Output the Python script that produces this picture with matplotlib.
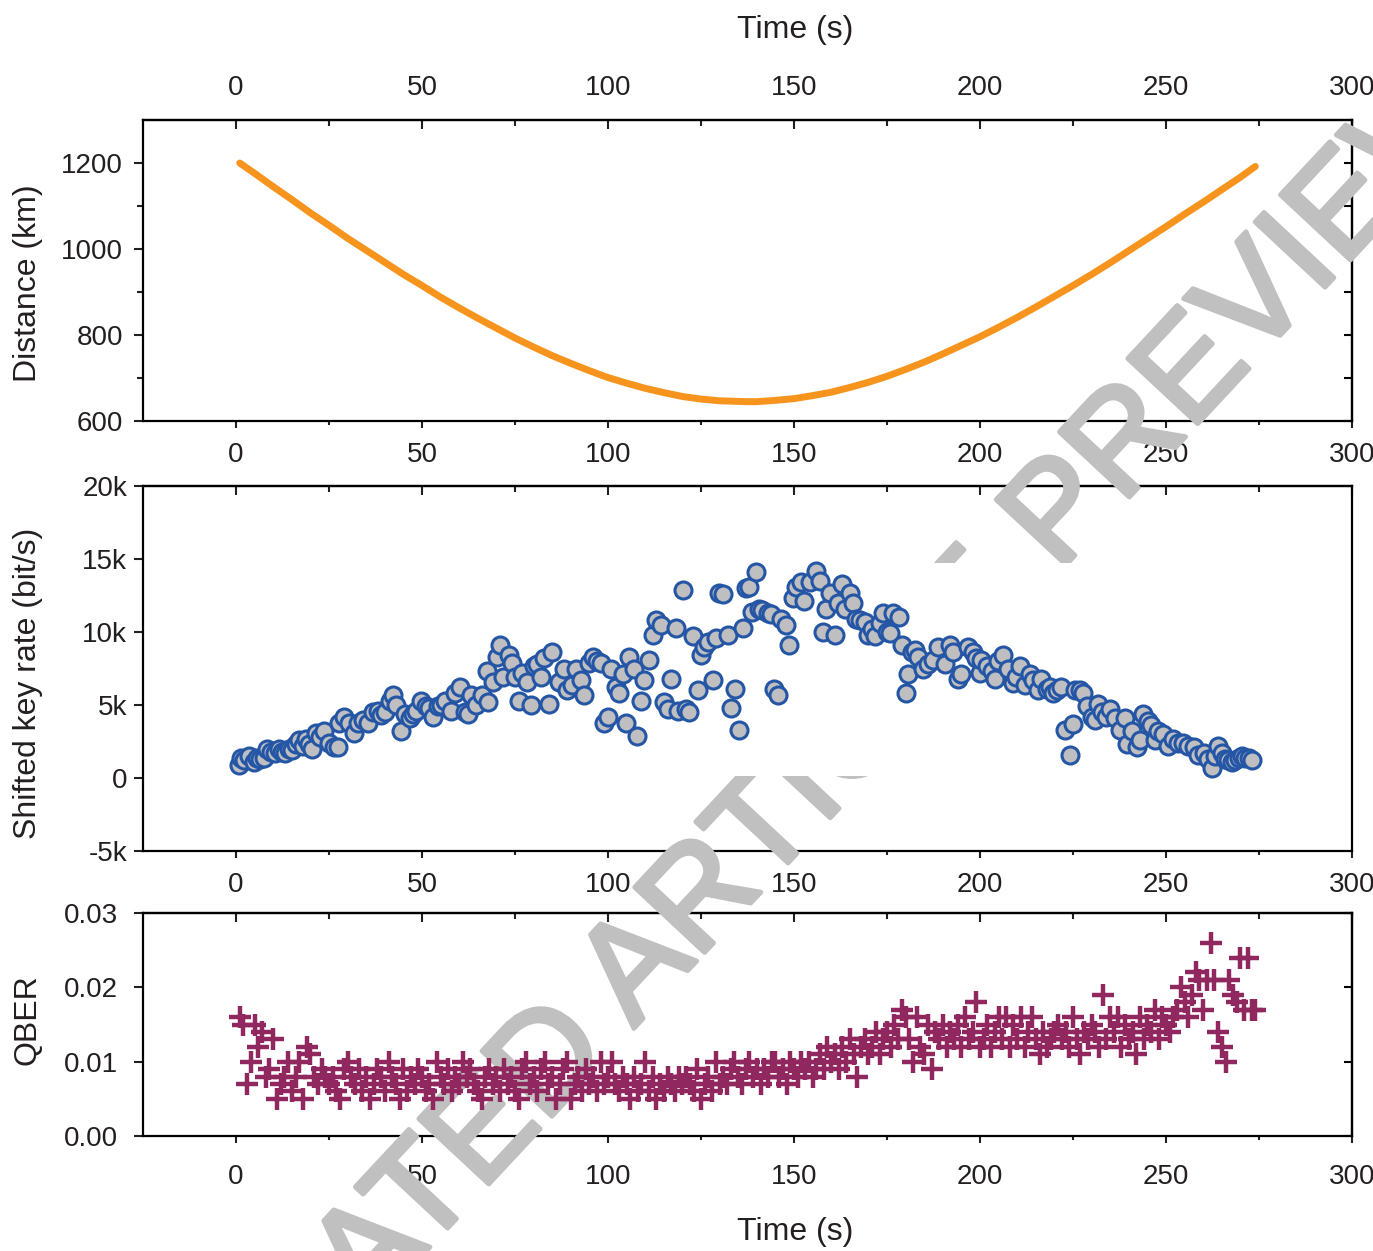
import matplotlib.pyplot as plt
import matplotlib.patheffects as pe
from matplotlib.patches import Rectangle

label_font = 'Liberation Sans'
plt.rcParams['font.family'] = [label_font, 'DejaVu Sans']

# --- data ---
dist_t = [1, 5, 10, 15, 20, 25, 30, 35, 40, 45, 50, 55, 60, 65, 70, 75, 80, 85, 90, 95,
          100, 105, 110, 115, 120, 125, 130, 137, 140, 145, 150, 155, 160, 165, 170, 175,
          180, 185, 190, 195, 200, 205, 210, 215, 220, 225, 230, 235, 240, 245, 250, 255,
          260, 265, 270, 274]
dist_km = [1200, 1176, 1145, 1115, 1084, 1055, 1025, 997, 969, 941, 915, 888, 863, 839,
           816, 793, 772, 752, 734, 717, 701, 688, 676, 666, 657, 651, 647, 645, 645, 648,
           652, 659, 667, 678, 690, 704, 720, 737, 756, 776, 796, 818, 841, 865, 890, 915,
           941, 968, 996, 1024, 1052, 1081, 1109, 1138, 1167, 1192]

rate_t = [0.8, 1.3, 2.2, 3.4, 4.8, 5.7, 6.5, 7.5, 8.4, 9.5, 10.6, 11.5, 12.4, 13.3, 14.2,
          15.1, 16, 17, 18, 18.8, 19.7, 20.5, 21.4, 22.5, 23.7, 25, 26.4, 27.3, 27.8, 29.1,
          30.5, 31.8, 32.7, 34.1, 35.4, 36.8, 38.1, 39, 40, 41.3, 42.2, 43.1, 44.3, 45.4, 46.7,
          47.5, 48.5, 49.8, 51.2, 52, 53, 54.3, 55.2, 56.1, 57.9, 58.8, 60.1, 61.5, 62.4, 63.3,
          64.5, 66, 67.4, 67.8, 69.2, 70.1, 71, 71.9, 73.3, 74.2, 75.1, 76, 76.9, 78.3, 79.2,
          80.1, 81, 81.9, 82.8, 84.1, 85, 86.8, 88.2, 89.1, 90.4, 91.4, 92.7, 93.6, 95, 95.9,
          97, 98.1, 99, 99.9, 100.8, 102.1, 103, 103.9, 104.8, 105.7, 107, 107.9, 108.8, 109.7,
          111.1, 112, 112.9, 114.2, 115.1, 116, 116.9, 118.3, 118.7, 120.1, 121, 121.9, 122.8,
          124.1, 125, 125.9, 126.8, 128.2, 129, 129.9, 131, 132.2, 133.1, 134.2, 135.3, 136.2,
          137.1, 138, 138.7, 139.8, 140.6, 141.5, 142.9, 143.8, 144.7, 145.6, 146.5, 147.9,
          148.6, 149.7, 150.6, 151.9, 152.8, 154.2, 155.8, 156.9, 157.8, 158.7, 159.6, 161,
          161.8, 162.8, 163.7, 165, 165.9, 166.8, 167.7, 169.1, 170, 170.9, 171.8, 173.1, 174,
          174.9, 175.8, 176.7, 178.1, 179, 180.1, 180.7, 181.6, 182.4, 183.4, 184.7, 186,
          187.4, 188.7, 190.5, 191.9, 192.8, 194.1, 195, 196.8, 198.1, 199, 200, 200.4, 201.8,
          203.1, 204, 204.9, 206.3, 207.6, 208.9, 209.8, 210.7, 212.1, 213.4, 214.3, 215.6,
          216.5, 217.9, 218.8, 219.7, 220.6, 221.9, 222.8, 224.2, 225.1, 225.5, 226.9, 227.8,
          228.7, 230, 230.9, 231.8, 232.7, 234, 234.9, 236.3, 237.6, 239, 239.4, 240.8, 242.1,
          243, 243.9, 245.2, 246.1, 247, 247.9, 249.3, 250.6, 252, 253.3, 254.7, 256, 257.4,
          258.7, 260.1, 261.4, 262.3, 263.2, 264.1, 265, 265.9, 266.8, 267.7, 268.6, 269.5,
          270.4, 271.3, 272.2, 273.1]
rate_k = [0.9, 1.4, 1.2, 1.5, 1.1, 1.4, 1.3, 1.4, 2.0, 1.8, 1.7, 2.0, 1.8, 1.7, 2.0,
          1.9, 2.3, 2.6, 2.2, 2.7, 2.3, 2.0, 3.1, 2.8, 3.2, 2.4, 2.1, 2.1, 3.8, 4.2,
          3.8, 3.1, 3.8, 4.0, 3.8, 4.5, 4.6, 4.3, 4.5, 5.3, 5.7, 5.0, 3.2, 4.4, 4.1,
          4.4, 4.6, 5.3, 4.9, 4.8, 4.2, 4.9, 5.0, 5.3, 4.6, 5.8, 6.2, 4.5, 4.4, 5.7,
          5.0, 5.7, 7.3, 5.2, 6.6, 8.3, 9.1, 6.9, 8.4, 7.9, 6.9, 5.3, 7.2, 6.6, 5.0,
          7.7, 7.8, 6.9, 8.2, 5.1, 8.6, 6.6, 7.5, 6.0, 6.4, 7.5, 6.7, 5.7, 7.9, 8.3,
          8.0, 7.9, 3.8, 4.2, 7.5, 6.2, 5.8, 7.1, 3.8, 8.3, 7.5, 2.9, 5.3, 6.7,
          8.1, 9.8, 10.8, 10.5, 5.2, 4.7, 6.8, 10.3, 4.6, 12.9, 4.7, 4.5, 9.7,
          6.0, 8.4, 9.0, 9.3, 6.7, 9.6, 12.7, 12.6, 9.8, 4.8, 6.1, 3.3, 10.3,
          13.0, 13.1, 11.4, 14.1, 11.6, 11.5, 11.3, 11.2, 6.1, 5.7, 10.9, 10.5,
          9.1, 12.3, 13.1, 13.4, 12.1, 13.4, 14.2, 13.5, 10.0, 11.6, 12.7, 9.8,
          12.0, 13.3, 11.6, 12.7, 12.0, 10.9, 10.8, 10.7, 9.8, 10.2, 9.7, 10.6, 11.3,
          10.0, 9.9, 11.3, 11.0, 9.1, 5.8, 7.1, 8.6, 8.8, 8.3, 7.5, 7.8,
          8.1, 9.0, 7.8, 9.1, 8.6, 6.8, 7.1, 9.0, 8.6, 8.2, 7.2, 8.1, 7.7,
          7.3, 6.8, 8.0, 8.4, 7.5, 6.5, 6.9, 7.7, 6.4, 7.1, 6.7, 6.0,
          6.8, 6.1, 6.2, 5.8, 6.0, 6.2, 3.3, 1.6, 3.7, 6.0, 6.0, 5.8,
          4.9, 4.2, 4.0, 5.1, 4.5, 4.2, 4.7, 4.1, 3.3, 4.1, 2.3, 3.2, 2.1,
          2.6, 4.4, 3.9, 3.6, 2.6, 3.2, 3.0, 2.2, 2.7, 2.4, 2.4, 2.2, 2.1,
          1.6, 1.7, 1.3, 0.7, 1.5, 2.2, 1.7, 1.3, 1.2, 1.1, 1.2, 1.4,
          1.5, 1.4, 1.4, 1.2]

qber_t = list(range(1, 275))
qber = [0.016, 0.015, 0.007, 0.010, 0.015, 0.012, 0.014, 0.008, 0.009, 0.013,
        0.005, 0.007, 0.008, 0.010, 0.006, 0.008, 0.010, 0.005, 0.012, 0.011,
        0.008, 0.007, 0.009, 0.008, 0.007, 0.008, 0.006, 0.005, 0.009, 0.010,
        0.008, 0.007, 0.009, 0.006, 0.008, 0.005, 0.007, 0.009, 0.008, 0.006,
        0.010, 0.008, 0.007, 0.005, 0.009, 0.006, 0.008, 0.007, 0.009, 0.008,
        0.006, 0.007, 0.005, 0.010, 0.008, 0.007, 0.009, 0.006, 0.008, 0.007,
        0.010, 0.008, 0.009, 0.007, 0.006, 0.005, 0.008, 0.009, 0.007, 0.008,
        0.006, 0.009, 0.007, 0.008, 0.006, 0.005, 0.009, 0.010, 0.007, 0.008,
        0.006, 0.009, 0.010, 0.007, 0.008, 0.005, 0.007, 0.009, 0.010, 0.005,
        0.007, 0.008, 0.006, 0.009, 0.007, 0.008, 0.006, 0.010, 0.007, 0.008,
        0.010, 0.007, 0.006, 0.008, 0.007, 0.005, 0.008, 0.006, 0.007, 0.010,
        0.006, 0.008, 0.005, 0.007, 0.006, 0.008, 0.007, 0.006, 0.008, 0.007,
        0.008, 0.007, 0.006, 0.009, 0.005, 0.007, 0.008, 0.006, 0.010, 0.007,
        0.008, 0.007, 0.009, 0.010, 0.008, 0.007, 0.009, 0.010, 0.008, 0.009,
        0.007, 0.009, 0.008, 0.010, 0.010, 0.008, 0.009, 0.007, 0.010, 0.009,
        0.008, 0.010, 0.009, 0.010, 0.008, 0.009, 0.011, 0.009, 0.012, 0.010,
        0.011, 0.009, 0.012, 0.010, 0.013, 0.011, 0.008, 0.012, 0.013, 0.011,
        0.012, 0.014, 0.011, 0.013, 0.014, 0.012, 0.015, 0.013, 0.017, 0.016,
        0.013, 0.010, 0.016, 0.012, 0.011, 0.015, 0.009, 0.014, 0.013, 0.015,
        0.012, 0.014, 0.013, 0.015, 0.012, 0.016, 0.013, 0.014, 0.018, 0.012,
        0.013, 0.015, 0.012, 0.014, 0.016, 0.013, 0.016, 0.012, 0.015, 0.013,
        0.016, 0.012, 0.014, 0.016, 0.013, 0.011, 0.014, 0.012, 0.013, 0.014,
        0.015, 0.013, 0.014, 0.012, 0.016, 0.013, 0.011, 0.014, 0.013, 0.015,
        0.014, 0.012, 0.019, 0.013, 0.016, 0.014, 0.016, 0.012, 0.015, 0.013,
        0.014, 0.011, 0.016, 0.013, 0.015, 0.014, 0.017, 0.013, 0.016, 0.015,
        0.014, 0.016, 0.017, 0.020, 0.018, 0.016, 0.019, 0.022, 0.021, 0.017,
        0.021, 0.026, 0.021, 0.014, 0.012, 0.010, 0.021, 0.019, 0.018, 0.024,
        0.017, 0.024, 0.017, 0.017]

W, H = 1373, 1251
fig = plt.figure(figsize=(W / 100, H / 100), dpi=100)


def px_axes(x0, y0, x1, y1, z=0):
    return fig.add_axes([x0 / W, 1 - y1 / H, (x1 - x0) / W, (y1 - y0) / H], zorder=z)


def frame(ax, ylim, yticks, ylabels, yminor=None, right=True, top_labels=False, xpad=10, ypad=8):
    ax.set_xlim(-25, 300)
    ax.set_ylim(*ylim)
    ax.set_xticks(range(0, 301, 50))
    ax.set_xticks(range(25, 300, 50), minor=True)
    ax.set_yticks(yticks, ylabels)
    if yminor:
        ax.set_yticks(yminor, minor=True)
    for s in ax.spines.values():
        s.set_linewidth(1.6)
    ax.tick_params(axis='both', which='both', direction='out', width=1.5,
                   top=False, right=False, labelsize=20, colors='#231f20')
    ax.tick_params(axis='x', which='major', length=5, pad=xpad)
    ax.tick_params(axis='x', which='minor', length=3)
    ax.tick_params(axis='y', which='major', length=6.5, pad=ypad)
    ax.tick_params(axis='y', which='minor', length=4)
    sec = ax.secondary_xaxis('top')
    sec.set_xticks(range(0, 301, 50))
    sec.set_xticks(range(25, 300, 50), minor=True)
    sec.spines['top'].set_linewidth(1.6)
    sec.tick_params(which='both', direction='in', width=1.5, labelsize=20, pad=14,
                    labeltop=top_labels, colors='#231f20')
    sec.tick_params(which='major', length=6.5)
    sec.tick_params(which='minor', length=4)
    if right:
        secy = ax.secondary_yaxis('right')
        secy.set_yticks(yticks)
        if yminor:
            secy.set_yticks(yminor, minor=True)
        secy.spines['right'].set_linewidth(1.6)
        secy.tick_params(which='both', direction='in', width=1.5, length=6, labelright=False)


def layer(ax):
    d = fig.add_axes(ax.get_position(), zorder=3)
    d.set_xlim(ax.get_xlim())
    d.set_ylim(ax.get_ylim())
    d.axis('off')
    d.patch.set_visible(False)
    return d


ax1 = px_axes(143, 120, 1352, 421)
ax2 = px_axes(143, 486, 1352, 851)
ax3 = px_axes(143, 913, 1352, 1136)

frame(ax1, (600, 1300), [600, 800, 1000, 1200], ['600', '800', '1000', '1200'],
      yminor=[700, 900, 1100], top_labels=True, ypad=8)
frame(ax2, (-5, 20), [-5, 0, 5, 10, 15, 20], ['-5k', '0', '5k', '10k', '15k', '20k'],
      right=False, ypad=5)
frame(ax3, (0, 0.03), [0, 0.01, 0.02, 0.03], ['0.00', '0.01', '0.02', '0.03'],
      xpad=15, ypad=11.5)

# watermark above the frames, below the data
wm = fig.add_axes([0, 0, 1, 1], zorder=2)
wm.set_xlim(0, W)
wm.set_ylim(H, 0)
wm.axis('off')
wm.text(681, 925, 'ACCELERATED ARTICLE PREVIEW', rotation=47, ha='center', va='center',
        rotation_mode='anchor', fontsize=100, color='#c0c0c0', family=label_font,
        path_effects=[pe.withStroke(linewidth=3.5, foreground='#c0c0c0')])

d1 = layer(ax1)
d1.plot(dist_t, dist_km, color='#f7941d', lw=5, solid_capstyle='round')

d2 = layer(ax2)
d2.add_patch(Rectangle((min(rate_t) - 2.2, min(rate_k) - 0.55),
                       max(rate_t) - min(rate_t) + 4.4, max(rate_k) - min(rate_k) + 1.1,
                       facecolor='white', edgecolor='none', zorder=1))
d2.scatter(rate_t, rate_k, s=150, facecolor='#bfbfc1', edgecolor='#2456a5',
           linewidths=2.2, zorder=2)

d3 = layer(ax3)
d3.plot(qber_t, qber, ls='none', marker='+', ms=16, mew=3.2, color='#90285f')

lab = dict(fontsize=23, family=label_font, color='#231f20')
fig.text(795 / W, 1 - 30 / H, 'Time (s)', ha='center', va='center', **lab)
fig.text(795 / W, 1 - 1232 / H, 'Time (s)', ha='center', va='center', **lab)
fig.text(28 / W, 1 - 283 / H, 'Distance (km)', rotation=90, ha='center', va='center', **lab)
fig.text(28 / W, 1 - 683 / H, 'Shifted key rate (bit/s)', rotation=90, ha='center', va='center', **lab)
fig.text(28 / W, 1 - 1020 / H, 'QBER', rotation=90, ha='center', va='center', **lab)

fig.savefig('out.png', dpi=100)
